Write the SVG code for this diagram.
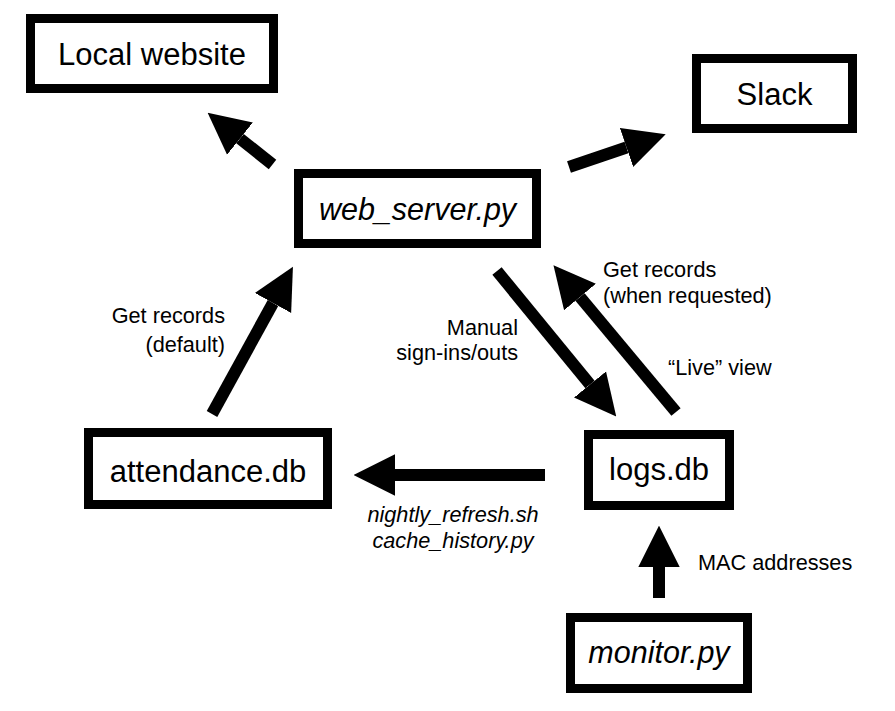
<svg xmlns="http://www.w3.org/2000/svg" width="895" height="711" viewBox="0 0 895 711">
<style>
.box{fill:#fff;stroke:#000;stroke-width:9}
.t{font-family:"Liberation Sans",Arial,sans-serif;font-size:31px;fill:#000;text-anchor:middle}
.t.i{font-size:30.5px}
.i{font-style:italic}
.l{font-family:"Liberation Sans",Arial,sans-serif;font-size:21.7px;fill:#000}
.c{fill:none;stroke:#000;stroke-width:12;marker-end:url(#ah)}
</style>
<defs>
<marker id="ah" viewBox="0 0 10 10" refX="0" refY="5" markerWidth="3.45" markerHeight="3.6" markerUnits="strokeWidth" orient="auto">
<path d="M0,0 L10,5 L0,10 z" fill="#000"/>
</marker>
</defs>
<rect width="895" height="711" fill="#fff"/>
<g id="connectors">
<line class="c" x1="272.5" y1="164.5" x2="240" y2="138.6"/>
<line class="c" x1="569" y1="167" x2="626.5" y2="147.5"/>
<line class="c" x1="212" y1="414" x2="273" y2="303"/>
<line class="c" x1="497" y1="271" x2="590" y2="384.5"/>
<line class="c" x1="676" y1="412" x2="580" y2="297"/>
<line class="c" x1="545" y1="475" x2="395" y2="475"/>
<line class="c" x1="659" y1="598" x2="659" y2="567"/>
</g>
<g id="labels">
<text class="l" text-anchor="end" x="225" y="323">Get records</text>
<text class="l" text-anchor="end" x="225" y="352">(default)</text>
<text class="l" text-anchor="end" x="518" y="335">Manual</text>
<text class="l" text-anchor="end" x="518" y="360">sign-ins/outs</text>
<text class="l" x="603" y="277">Get records</text>
<text class="l" x="603" y="303">(when requested)</text>
<text class="l" x="668" y="375">“Live” view</text>
<text class="l i" text-anchor="middle" x="453" y="522">nightly_refresh.sh</text>
<text class="l i" text-anchor="middle" x="453" y="548">cache_history.py</text>
<text class="l" x="698" y="570">MAC addresses</text>
</g>
<g id="local-website">
<rect class="box" x="30.5" y="18.5" width="243" height="70"/>
<text class="t" x="152" y="65">Local website</text>
</g>
<g id="slack">
<rect class="box" x="696.5" y="58.5" width="156" height="70"/>
<text class="t" x="774.5" y="105">Slack</text>
</g>
<g id="web-server">
<rect class="box" x="298.5" y="173.5" width="238" height="70"/>
<text class="t i" x="417.5" y="220">web_server.py</text>
</g>
<g id="attendance-db">
<rect class="box" x="88.5" y="432.5" width="239" height="72"/>
<text class="t" x="208" y="482">attendance.db</text>
</g>
<g id="logs-db">
<rect class="box" x="588.5" y="434.5" width="141" height="71"/>
<text class="t" x="659" y="480">logs.db</text>
</g>
<g id="monitor">
<rect class="box" x="570.5" y="617.5" width="177" height="71"/>
<text class="t i" x="659" y="663">monitor.py</text>
</g>
</svg>
